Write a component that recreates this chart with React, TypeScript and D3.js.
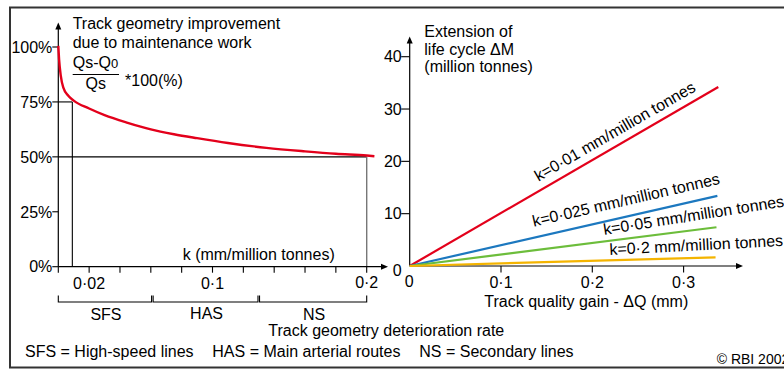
import React from "react";
import * as d3 from "d3";

// ---------- data ----------
// Left panel: track geometry improvement vs deterioration rate k
const curveK = [0, 0.0005, 0.0016, 0.0032, 0.0065, 0.01, 0.02, 0.03, 0.045, 0.06, 0.075, 0.09, 0.11, 0.135, 0.16, 0.18, 0.2, 0.205];
const curvePct = [100.5, 94.5, 87, 81.6, 77.8, 75.6, 72.0, 69.0, 65.5, 62.5, 60.3, 58.5, 56.3, 54.1, 52.5, 51.4, 50.6, 50.3];
const leftYTicks = [0, 25, 50, 75, 100];
const leftXMinorTicks = [0, 0.02, 0.04, 0.06, 0.08, 0.1, 0.12, 0.14, 0.16, 0.18, 0.2];
const leftXLabels = [0.02, 0.1, 0.2];
const groupNames = ["SFS", "HAS", "NS"];
const groupFrom = [0, 0.0615, 0.1305];
const groupTo = [0.0605, 0.1295, 0.2];
const refK75 = 0.0091;

// Right panel: extension of life cycle vs track quality gain
const seriesK = ["0·01", "0·025", "0·05", "0·2"];
const seriesEndQ = [0.338, 0.337, 0.336, 0.335];
const seriesEndM = [34.2, 13.4, 7.4, 1.65];
const rightYTicks = [0, 10, 20, 30, 40];
const rightXTicks = [0.1, 0.2, 0.3];

const footnotes = ["SFS = High-speed lines", "HAS = Main arterial routes", "NS = Secondary lines"];

// ---------- styles ----------
const FONT = "'Liberation Sans', Arial, Helvetica, sans-serif";
const FS = 16;
const colors = ["#e3001b", "#1c78bf", "#6cbd3b", "#f4b400"];

const fmt = (v: number) => (v === 0 ? "0" : String(v).replace(".", "·"));

export default function App() {
  const xL = d3.scaleLinear().domain([0, 0.2]).range([58.3, 366.7]);
  const yL = d3.scaleLinear().domain([0, 100]).range([266.7, 47]);
  const xR = d3.scaleLinear().domain([0, 0.3]).range([409.7, 683.6]);
  const yR = d3.scaleLinear().domain([0, 40]).range([266, 56.7]);

  const curvePts: [number, number][] = curveK.map((k, i) => [k, curvePct[i]]);
  const curvePath = d3
    .line<[number, number]>()
    .x((d) => xL(d[0]))
    .y((d) => yL(d[1]))
    .curve(d3.curveMonotoneX)(curvePts) as string;

  const lineR = d3
    .line<[number, number]>()
    .x((d) => xR(d[0]))
    .y((d) => yR(d[1]));

  // label placement (start point in data space and rotation)
  const labelQ = [0.141, 0.136, 0.213, 0.219];
  const labelM = [16.1, 7.5, 5.93, 2.1];
  const labelRot = [-30, -13, -9, -3];

  const x0L = xL(0);
  const y0L = yL(0);
  const x0R = xR(0);
  const y0R = yR(0);

  const arrow = (x: number, y: number, dir: "up" | "right") =>
    dir === "up"
      ? `M${x},${y} L${x - 3},${y + 7} L${x + 3},${y + 7} Z`
      : `M${x},${y} L${x - 7},${y - 3} L${x - 7},${y + 3} Z`;

  const bracketY = 302;

  return (
    <svg
      width={784}
      height={369}
      style={{ position: "absolute", left: 0, top: 0, background: "#fff" }}
      fontFamily={FONT}
      fontSize={FS}
    >
      <rect x={0} y={0} width={784} height={369} fill="#fff" />
      <rect x={10} y={7.5} width={790} height={360} fill="none" stroke="#333" strokeWidth={2} />

      {/* ---------- LEFT PANEL ---------- */}
      {/* reference lines */}
      <line x1={x0L} x2={xL(refK75)} y1={yL(75)} y2={yL(75)} stroke="#000" strokeWidth={1.1} />
      <line x1={xL(refK75)} x2={xL(refK75)} y1={yL(75)} y2={y0L} stroke="#000" strokeWidth={1.1} />
      <line x1={x0L} x2={xL(0.2)} y1={yL(50)} y2={yL(50)} stroke="#000" strokeWidth={1.1} />
      <line x1={xL(0.2)} x2={xL(0.2)} y1={yL(50)} y2={y0L} stroke="#777" strokeWidth={1.4} />

      {/* axes */}
      <line x1={x0L} x2={x0L} y1={y0L} y2={27} stroke="#000" strokeWidth={1.2} />
      <path d={arrow(x0L, 22.5, "up")} fill="#000" />
      <line x1={x0L} x2={383} y1={y0L} y2={y0L} stroke="#000" strokeWidth={1.2} />
      <path d={arrow(388, y0L, "right")} fill="#000" />

      {leftYTicks.map((t) => (
        <g key={"ly" + t}>
          <line x1={x0L - 6} x2={x0L} y1={yL(t)} y2={yL(t)} stroke="#000" strokeWidth={1.1} />
          <text x={x0L - 6} y={yL(t)} dy="0.36em" textAnchor="end">
            {t + "%"}
          </text>
        </g>
      ))}
      {leftXMinorTicks.map((t) => (
        <line key={"lx" + t} x1={xL(t)} x2={xL(t)} y1={y0L} y2={y0L + 6} stroke="#000" strokeWidth={1.1} />
      ))}
      {leftXLabels.map((t) => (
        <text key={"lxl" + t} x={xL(t)} y={t === 0.2 ? 287.5 : 289} textAnchor="middle">
          {fmt(t)}
        </text>
      ))}

      {/* curve */}
      <path d={curvePath} fill="none" stroke={colors[0]} strokeWidth={2.4} />

      {/* titles */}
      <text x={72.7} y={29}>Track geometry improvement</text>
      <text x={72.7} y={48.3}>due to maintenance work</text>
      <text x={72.7} y={68}>
        Qs-Q
        <tspan fontSize={13}>0</tspan>
      </text>
      <line x1={72.7} x2={119} y1={74.5} y2={74.5} stroke="#000" strokeWidth={1} />
      <text x={95.8} y={88.5} textAnchor="middle">
        Qs
      </text>
      <text x={125} y={85.5}>*100(%)</text>
      <text x={182.7} y={260}>k (mm/million tonnes)</text>

      {/* group brackets */}
      {groupNames.map((g, i) => {
        const a = xL(groupFrom[i]);
        const b = xL(groupTo[i]);
        return (
          <g key={g}>
            <path
              d={`M${a},${bracketY - 6.5} L${a},${bracketY} L${b},${bracketY} L${b},${bracketY - 6.5}`}
              fill="none"
              stroke="#000"
              strokeWidth={1.1}
            />
            <text x={(a + b) / 2 + 1} y={i === 1 ? 318.5 : 319.5} textAnchor="middle">
              {g}
            </text>
          </g>
        );
      })}
      <text x={268.3} y={335.5}>Track geometry deterioration rate</text>

      {/* ---------- RIGHT PANEL ---------- */}
      <line x1={x0R} x2={x0R} y1={y0R} y2={41} stroke="#000" strokeWidth={1.2} />
      <path d={arrow(x0R, 36.5, "up")} fill="#000" />
      <line x1={x0R} x2={738} y1={y0R} y2={y0R} stroke="#000" strokeWidth={1.2} />
      <path d={arrow(743, y0R, "right")} fill="#000" />

      {rightYTicks.map((t) => (
        <g key={"ry" + t}>
          {t !== 0 && <line x1={x0R - 8.5} x2={x0R} y1={yR(t)} y2={yR(t)} stroke="#000" strokeWidth={1.1} />}
          <text x={x0R - 8} y={t === 0 ? yR(t) + 4.5 : yR(t)} dy="0.36em" textAnchor="end">
            {String(t)}
          </text>
        </g>
      ))}
      {rightXTicks.map((t) => (
        <g key={"rx" + t}>
          <line x1={xR(t)} x2={xR(t)} y1={y0R} y2={y0R + 6.5} stroke="#000" strokeWidth={1.1} />
          <text x={xR(t)} y={288.3} textAnchor="middle">
            {fmt(t)}
          </text>
        </g>
      ))}
      <text x={x0R - 0.5} y={286.7} textAnchor="middle">
        0
      </text>

      {seriesK.map((k, i) => (
        <path
          key={"s" + k}
          d={lineR([
            [0, 0],
            [seriesEndQ[i], seriesEndM[i]],
          ]) as string}
          fill="none"
          stroke={colors[i]}
          strokeWidth={2.2}
        />
      ))}
      {seriesK.map((k, i) => (
        <text
          key={"sl" + k}
          transform={`translate(${xR(labelQ[i])},${yR(labelM[i])}) rotate(${labelRot[i]})`}
        >
          {`k=${k} mm/million tonnes`}
        </text>
      ))}

      <text x={424.3} y={36.5}>Extension of</text>
      <text x={424.3} y={55}>life cycle ΔM</text>
      <text x={424.3} y={72}>(million tonnes)</text>
      <text x={586.3} y={307} textAnchor="middle">
        Track quality gain - ΔQ (mm)
      </text>

      {/* footnotes */}
      <text x={25} y={357.3}>{footnotes[0]}</text>
      <text x={212.3} y={357.3}>{footnotes[1]}</text>
      <text x={419.3} y={357.3}>{footnotes[2]}</text>
      <text x={716.7} y={364} fontSize={14}>
        © RBI 2002
      </text>
    </svg>
  );
}
